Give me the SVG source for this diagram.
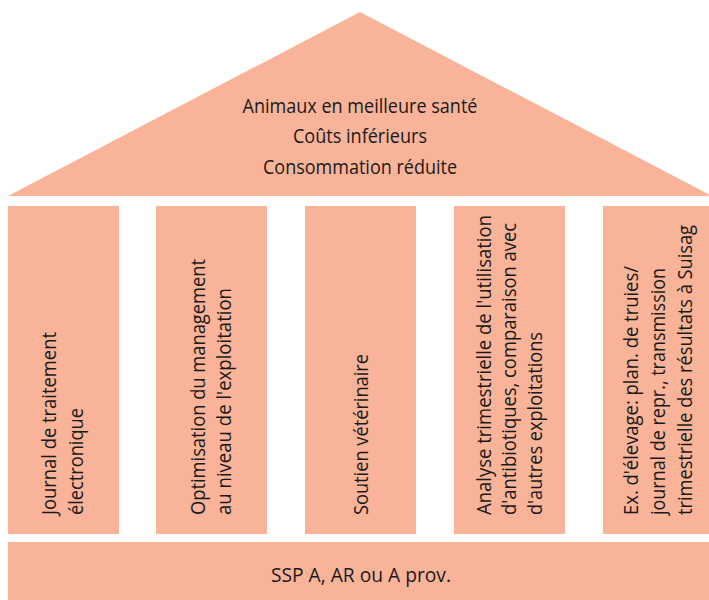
<svg xmlns="http://www.w3.org/2000/svg" width="709" height="600" viewBox="0 0 709 600">
<style>
.f{fill:#F8B398}
text{font-family:"Open Sans","Noto Sans","DejaVu Sans",sans-serif;font-size:20px;fill:#1a1a1a}
.c{text-anchor:middle}
</style>
<rect width="709" height="600" fill="#ffffff"/>
<g id="roof">
<polygon class="f" points="8,196 360,12 712,196"/>
<text class="c" x="360" y="112.5" textLength="235" lengthAdjust="spacingAndGlyphs">Animaux en meilleure santé</text>
<text class="c" x="360" y="143" textLength="134" lengthAdjust="spacingAndGlyphs">Coûts inférieurs</text>
<text class="c" x="360" y="174" textLength="194" lengthAdjust="spacingAndGlyphs">Consommation réduite</text>
</g>
<g id="pillar1">
<rect class="f" x="8" y="206" width="111" height="328"/>
<text transform="translate(56,515) rotate(-90)" textLength="183" lengthAdjust="spacingAndGlyphs">Journal de traitement</text>
<text transform="translate(82.7,515) rotate(-90)" textLength="107" lengthAdjust="spacingAndGlyphs">électronique</text>
</g>
<g id="pillar2">
<rect class="f" x="156" y="206" width="111" height="328"/>
<text transform="translate(205,515) rotate(-90)" textLength="256" lengthAdjust="spacingAndGlyphs">Optimisation du management</text>
<text transform="translate(231,515) rotate(-90)" textLength="227" lengthAdjust="spacingAndGlyphs">au niveau de l'exploitation</text>
</g>
<g id="pillar3">
<rect class="f" x="305" y="206" width="111" height="328"/>
<text transform="translate(367.5,515) rotate(-90)" textLength="161" lengthAdjust="spacingAndGlyphs">Soutien vétérinaire</text>
</g>
<g id="pillar4">
<rect class="f" x="454" y="206" width="111" height="328"/>
<text transform="translate(490.5,515) rotate(-90)" textLength="300" lengthAdjust="spacingAndGlyphs">Analyse trimestrielle de l'utilisation</text>
<text transform="translate(516,515) rotate(-90)" textLength="292" lengthAdjust="spacingAndGlyphs">d'antibiotiques, comparaison avec</text>
<text transform="translate(541.7,515) rotate(-90)" textLength="183" lengthAdjust="spacingAndGlyphs">d'autres exploitations</text>
</g>
<g id="pillar5">
<rect class="f" x="603" y="206" width="111" height="328"/>
<text transform="translate(638.3,515) rotate(-90)" textLength="249" lengthAdjust="spacingAndGlyphs">Ex. d'élevage: plan. de truies/</text>
<text transform="translate(665,515) rotate(-90)" textLength="247" lengthAdjust="spacingAndGlyphs">journal de repr., transmission</text>
<text transform="translate(691.7,515) rotate(-90)" textLength="290" lengthAdjust="spacingAndGlyphs">trimestrielle des résultats à Suisag</text>
</g>
<g id="base">
<rect class="f" x="8" y="542" width="706" height="60"/>
<text class="c" x="361" y="582" textLength="180" lengthAdjust="spacingAndGlyphs">SSP A, AR ou A prov.</text>
</g>
<g id="connectors"></g>
</svg>
